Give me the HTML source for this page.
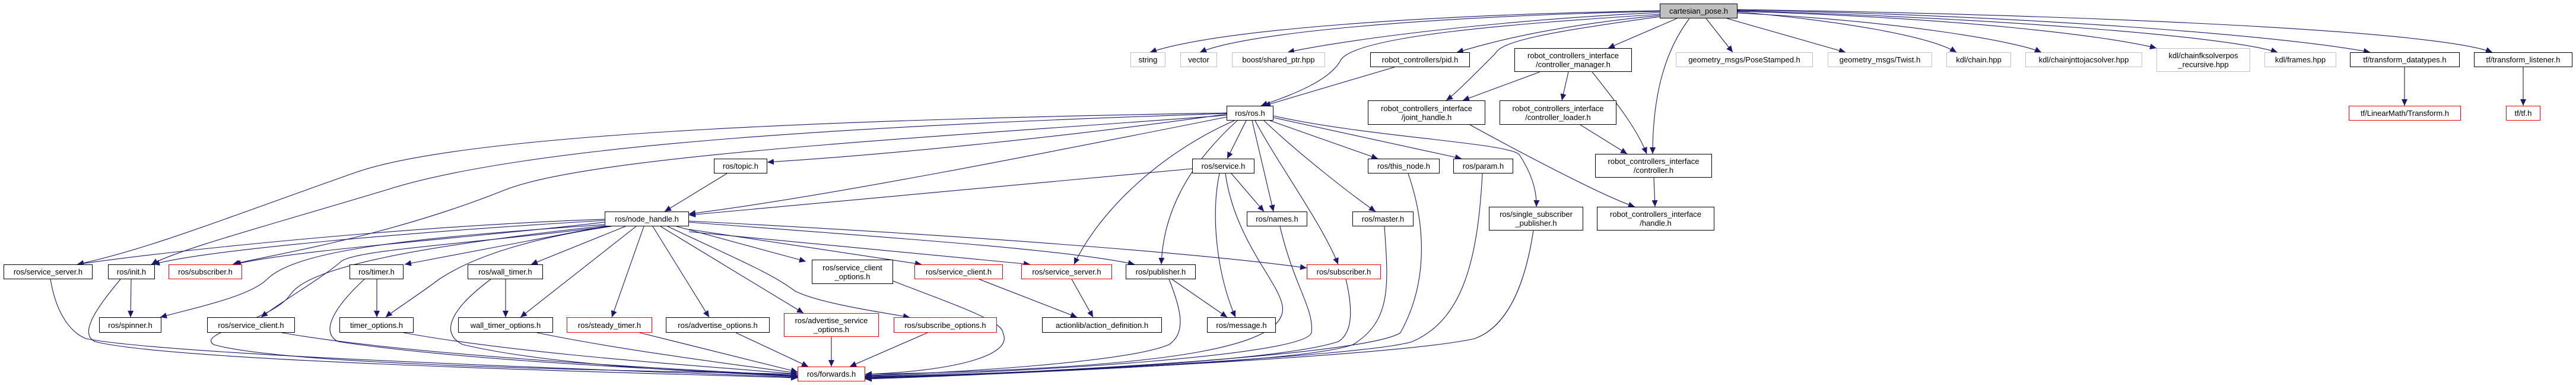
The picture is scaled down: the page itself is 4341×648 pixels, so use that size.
<!DOCTYPE html>
<html><head><meta charset="utf-8"><style>
html,body{margin:0;padding:0;background:#fff;}
#c{position:relative;width:4341px;height:648px;overflow:hidden;}
svg{position:absolute;left:0;top:0;}
.n{position:absolute;box-sizing:border-box;border:1.5px solid #000;background:#fff;display:flex;align-items:center;justify-content:center;text-align:center;font-family:"Liberation Sans",sans-serif;font-size:13px;line-height:15px;color:#000;white-space:nowrap;}
.g{border-color:#bfbfbf;}
.r{border-color:#ff0000;}
</style></head><body><div id="c">
<svg width="4341" height="648" viewBox="0 0 4341 648">
<defs><marker id="a" markerUnits="userSpaceOnUse" markerWidth="12" markerHeight="10" refX="11" refY="5" orient="auto"><path d="M0,0 L11,5 L0,10 z" fill="#191970"/></marker></defs>
<g fill="none" stroke="#191970" stroke-width="1.1" marker-end="url(#a)">
<path d="M2797,18 C2400,25 2050,50 1938,88"/>
<path d="M2797,19 C2400,28 2100,55 2022,88"/>
<path d="M2797,21 C2500,35 2250,70 2170,88"/>
<path d="M2797,24 C2550,40 2290,60 2260,100 C2240,140 2160,165 2125,178"/>
<path d="M2797,26 C2600,45 2500,75 2455,88"/>
<path d="M2826,31 L2710,81"/>
<path d="M2797,28 C2600,55 2530,70 2520,90 C2480,130 2450,160 2437,169"/>
<path d="M2847,31 C2810,80 2785,150 2785,259"/>
<path d="M2875,31 L2920,88"/>
<path d="M2910,31 L3110,88"/>
<path d="M2928,20 C3100,35 3250,60 3297,88"/>
<path d="M2928,22 C3200,35 3400,70 3440,88"/>
<path d="M2928,19 C3300,30 3550,60 3634,81"/>
<path d="M2928,18 C3350,30 3750,60 3838,88"/>
<path d="M2928,17 C3400,25 3850,60 3994,88"/>
<path d="M2928,16 C3500,25 4100,50 4200,88"/>
<path d="M2350,113 L2130,178"/>
<path d="M2595,121 L2465,169"/>
<path d="M2643,121 L2632,169"/>
<path d="M2683,121 C2730,180 2760,220 2775,259"/>
<path d="M2477,210 C2550,250 2700,330 2755,348"/>
<path d="M2663,210 L2742,259"/>
<path d="M2787,299 L2789,348"/>
<path d="M4052,113 L4052,178"/>
<path d="M4252,113 L4252,178"/>
<path d="M2067,192 C1800,230 1500,260 1293,273"/>
<path d="M2067,197 C1800,250 1400,330 1161,360"/>
<path d="M2100,203 L2068,267"/>
<path d="M2110,203 L2146,356"/>
<path d="M2075,292 L2130,356"/>
<path d="M2067,190 C1500,200 800,220 600,290 C400,360 250,420 130,445"/>
<path d="M2067,191 C1500,210 900,240 650,320 C450,380 300,420 255,445"/>
<path d="M2067,194 C1600,230 1000,260 850,320 C650,400 450,430 392,445"/>
<path d="M2080,203 C1950,260 1850,360 1810,445"/>
<path d="M2085,203 C2000,280 1960,360 1957,445"/>
<path d="M2115,203 C2150,270 2230,380 2255,445"/>
<path d="M2140,203 L2322,267"/>
<path d="M2146,198 L2463,267"/>
<path d="M2130,203 C2190,260 2280,330 2318,356"/>
<path d="M2146,195 C2300,230 2540,240 2560,260 C2580,290 2590,320 2589,348"/>
<path d="M2009,284 L1161,362"/>
<path d="M2055,292 C2040,360 2050,460 2082,534"/>
<path d="M2065,292 C2080,400 2150,470 2160,510 C2180,580 2000,620 1458,630"/>
<path d="M1225,292 L1120,356"/>
<path d="M1019,369 C700,380 300,420 130,445"/>
<path d="M1019,371 C700,390 350,420 258,445"/>
<path d="M1019,374 C800,400 500,420 395,445"/>
<path d="M1019,378 C700,400 500,420 450,470 C420,500 320,520 270,534"/>
<path d="M1025,381 C800,410 600,420 575,440 C540,470 470,510 440,534"/>
<path d="M1019,380 C700,415 520,450 490,495 C460,540 330,560 360,580 C500,620 1200,625 1344,630"/>
<path d="M1019,381 L682,445"/>
<path d="M1030,381 C900,400 800,430 740,470 C700,500 660,525 650,534"/>
<path d="M1054,381 L895,445"/>
<path d="M1072,381 L877,534"/>
<path d="M1085,381 L1031,534"/>
<path d="M1100,381 L1195,534"/>
<path d="M1113,381 L1354,527"/>
<path d="M1125,381 C1250,440 1300,460 1340,490 C1380,510 1480,525 1533,534"/>
<path d="M1140,381 L1358,440"/>
<path d="M1161,386 L1553,445"/>
<path d="M1161,390 L1736,445"/>
<path d="M1161,374 C1500,400 1800,420 1912,445"/>
<path d="M1161,372 C1700,400 2050,430 2202,451"/>
<path d="M85,470 C95,530 120,560 145,570 C300,600 1100,625 1344,635"/>
<path d="M203,470 C170,510 130,560 160,575 C300,610 1100,628 1344,636"/>
<path d="M221,470 L220,534"/>
<path d="M475,560 C700,600 1200,625 1344,632"/>
<path d="M635,470 L635,534"/>
<path d="M614,470 C560,520 540,560 570,575 C800,610 1200,625 1344,633"/>
<path d="M680,560 C900,600 1250,620 1344,630"/>
<path d="M852,470 L852,534"/>
<path d="M827,470 C760,520 740,560 780,580 C950,620 1250,628 1344,634"/>
<path d="M905,560 C1050,590 1250,615 1344,628"/>
<path d="M1078,560 L1344,626"/>
<path d="M1240,560 L1362,617"/>
<path d="M1401,567 L1401,617"/>
<path d="M1563,560 L1432,617"/>
<path d="M1505,473 C1600,510 1690,540 1690,560 C1710,600 1600,625 1458,630"/>
<path d="M1650,470 L1815,534"/>
<path d="M1806,470 L1842,534"/>
<path d="M1975,470 L2068,534"/>
<path d="M1970,470 C1990,520 2000,560 1970,580 C1900,610 1600,628 1458,632"/>
<path d="M2157,381 C2180,480 2215,520 2210,560 C2200,600 1700,628 1458,633"/>
<path d="M2268,470 C2280,520 2280,560 2255,575 C2150,610 1700,630 1458,634"/>
<path d="M2333,381 C2340,480 2345,540 2280,580 C2200,610 1700,630 1458,635"/>
<path d="M2373,292 C2400,370 2410,470 2360,560 C2300,600 1700,630 1458,636"/>
<path d="M2498,292 C2490,450 2460,540 2380,575 C2300,600 1700,630 1458,637"/>
<path d="M2584,388 C2570,480 2540,550 2485,570 C2350,600 1700,630 1458,638"/>
</g></svg>

<div class="n" style="left:2797px;top:6px;width:131px;height:25px;background:#bfbfbf;">cartesian_pose.h</div>

<div class="n g" style="left:1905px;top:88px;width:59px;height:25px;">string</div>
<div class="n g" style="left:1989px;top:88px;width:62px;height:25px;">vector</div>
<div class="n g" style="left:2076px;top:88px;width:157px;height:25px;">boost/shared_ptr.hpp</div>
<div class="n" style="left:2309px;top:88px;width:168px;height:25px;">robot_controllers/pid.h</div>
<div class="n" style="left:2552px;top:81px;width:198px;height:40px;">robot_controllers_interface<br>/controller_manager.h</div>
<div class="n g" style="left:2824px;top:88px;width:231px;height:25px;">geometry_msgs/PoseStamped.h</div>
<div class="n g" style="left:3080px;top:88px;width:176px;height:25px;">geometry_msgs/Twist.h</div>
<div class="n g" style="left:3280px;top:88px;width:109px;height:25px;">kdl/chain.hpp</div>
<div class="n g" style="left:3413px;top:88px;width:197px;height:25px;">kdl/chainjnttojacsolver.hpp</div>
<div class="n g" style="left:3634px;top:81px;width:158px;height:40px;">kdl/chainfksolverpos<br>_recursive.hpp</div>
<div class="n g" style="left:3816px;top:88px;width:121px;height:25px;">kdl/frames.hpp</div>
<div class="n" style="left:3960px;top:88px;width:185px;height:25px;">tf/transform_datatypes.h</div>
<div class="n" style="left:4169px;top:88px;width:166px;height:25px;">tf/transform_listener.h</div>

<div class="n" style="left:2067px;top:178px;width:79px;height:25px;">ros/ros.h</div>
<div class="n" style="left:2305px;top:169px;width:198px;height:41px;">robot_controllers_interface<br>/joint_handle.h</div>
<div class="n" style="left:2527px;top:169px;width:197px;height:41px;">robot_controllers_interface<br>/controller_loader.h</div>
<div class="n r" style="left:3958px;top:178px;width:189px;height:25px;">tf/LinearMath/Transform.h</div>
<div class="n r" style="left:4223px;top:178px;width:58px;height:25px;">tf/tf.h</div>

<div class="n" style="left:1203px;top:267px;width:90px;height:25px;">ros/topic.h</div>
<div class="n" style="left:2009px;top:267px;width:105px;height:25px;">ros/service.h</div>
<div class="n" style="left:2305px;top:267px;width:121px;height:25px;">ros/this_node.h</div>
<div class="n" style="left:2449px;top:267px;width:101px;height:25px;">ros/param.h</div>
<div class="n" style="left:2688px;top:259px;width:197px;height:40px;">robot_controllers_interface<br>/controller.h</div>

<div class="n" style="left:1019px;top:356px;width:142px;height:25px;">ros/node_handle.h</div>
<div class="n" style="left:2101px;top:356px;width:102px;height:25px;">ros/names.h</div>
<div class="n" style="left:2279px;top:356px;width:103px;height:25px;">ros/master.h</div>
<div class="n" style="left:2509px;top:348px;width:159px;height:40px;">ros/single_subscriber<br>_publisher.h</div>
<div class="n" style="left:2691px;top:348px;width:198px;height:40px;">robot_controllers_interface<br>/handle.h</div>

<div class="n" style="left:6px;top:445px;width:150px;height:25px;">ros/service_server.h</div>
<div class="n" style="left:182px;top:445px;width:79px;height:25px;">ros/init.h</div>
<div class="n r" style="left:284px;top:445px;width:124px;height:25px;">ros/subscriber.h</div>
<div class="n" style="left:589px;top:445px;width:91px;height:25px;">ros/timer.h</div>
<div class="n" style="left:788px;top:445px;width:127px;height:25px;">ros/wall_timer.h</div>
<div class="n" style="left:1368px;top:437px;width:137px;height:41px;">ros/service_client<br>_options.h</div>
<div class="n r" style="left:1541px;top:445px;width:149px;height:25px;">ros/service_client.h</div>
<div class="n r" style="left:1721px;top:445px;width:153px;height:25px;">ros/service_server.h</div>
<div class="n" style="left:1897px;top:445px;width:118px;height:25px;">ros/publisher.h</div>
<div class="n r" style="left:2202px;top:445px;width:125px;height:25px;">ros/subscriber.h</div>

<div class="n" style="left:167px;top:534px;width:105px;height:26px;">ros/spinner.h</div>
<div class="n" style="left:349px;top:534px;width:148px;height:26px;">ros/service_client.h</div>
<div class="n" style="left:572px;top:534px;width:125px;height:26px;">timer_options.h</div>
<div class="n" style="left:772px;top:534px;width:160px;height:26px;">wall_timer_options.h</div>
<div class="n r" style="left:955px;top:534px;width:144px;height:26px;">ros/steady_timer.h</div>
<div class="n" style="left:1122px;top:534px;width:175px;height:26px;">ros/advertise_options.h</div>
<div class="n r" style="left:1321px;top:527px;width:160px;height:40px;">ros/advertise_service<br>_options.h</div>
<div class="n r" style="left:1506px;top:534px;width:174px;height:26px;">ros/subscribe_options.h</div>
<div class="n" style="left:1756px;top:534px;width:202px;height:26px;">actionlib/action_definition.h</div>
<div class="n" style="left:2034px;top:534px;width:116px;height:26px;">ros/message.h</div>

<div class="n r" style="left:1344px;top:617px;width:114px;height:25px;">ros/forwards.h</div>
</div></body></html>
